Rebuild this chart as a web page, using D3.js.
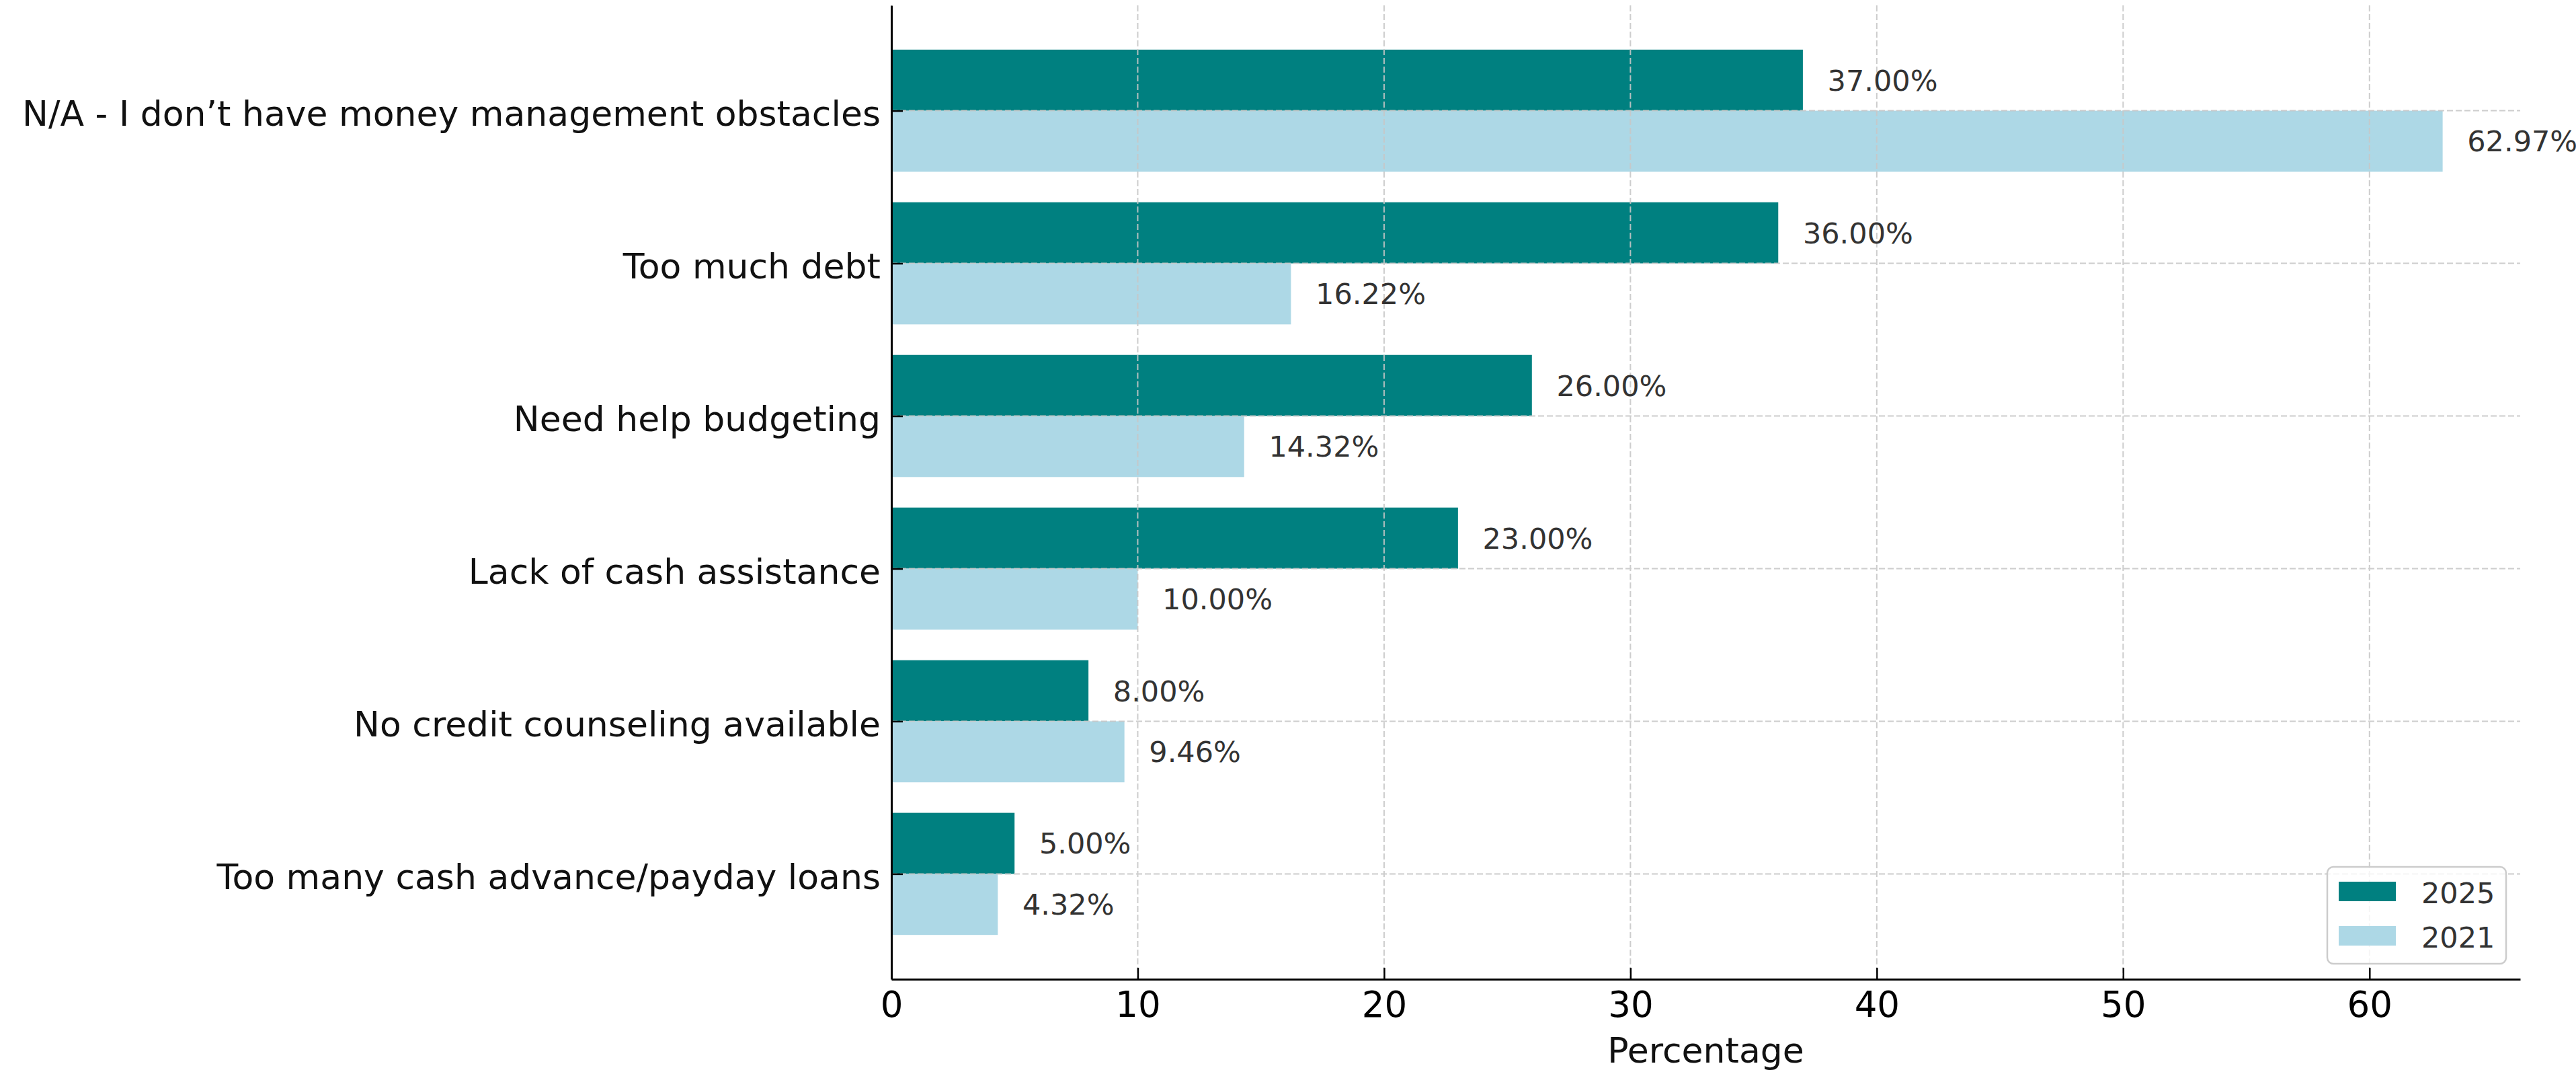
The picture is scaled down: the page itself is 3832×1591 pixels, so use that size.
<!DOCTYPE html>
<html>
<head>
<meta charset="utf-8">
<script src="https://cdn.jsdelivr.net/npm/d3@7"></script>
<style>
  html, body { margin: 0; padding: 0; background: #fff; }
  svg { display: block; font-family: "DejaVu Sans", sans-serif; }
</style>
</head>
<body>
<svg id="chart" width="3832" height="1591"></svg>
<script>
const categories = [
  "N/A - I don\u2019t have money management obstacles",
  "Too much debt",
  "Need help budgeting",
  "Lack of cash assistance",
  "No credit counseling available",
  "Too many cash advance/payday loans"
];
const values2025 = [37.00, 36.00, 26.00, 23.00, 8.00, 5.00];
const values2021 = [62.97, 16.22, 14.32, 10.00, 9.46, 4.32];
const seriesNames = ["2025", "2021"];
const xTicks = [0, 10, 20, 30, 40, 50, 60];
const xLabel = "Percentage";

const colors = { "2025": "#008080", "2021": "#ADD8E6" };
const plotL = 1326, plotR = 3749, plotT = 8, plotB = 1456;
const barH = 0.4;

const svg = d3.select("#chart");
const maxV = d3.max(values2021.concat(values2025));
const x = d3.scaleLinear().domain([0, maxV * 1.05]).range([plotL, plotR]);
const yIdx = d3.scaleLinear().domain([-0.69, categories.length - 1 + 0.69]).range([plotT, plotB]);

const series = [
  { name: "2025", values: values2025, offset: -barH },
  { name: "2021", values: values2021, offset: 0 }
];

// bars
series.forEach(s => {
  svg.append("g").selectAll("rect").data(s.values).join("rect")
    .attr("x", x(0))
    .attr("y", (d, i) => yIdx(i + s.offset))
    .attr("width", d => x(d) - x(0))
    .attr("height", yIdx(barH) - yIdx(0))
    .attr("fill", colors[s.name]);
});

// grid
const grid = svg.append("g").attr("stroke", "#c8c8c8").attr("stroke-width", 2)
  .attr("stroke-dasharray", "9,4").attr("opacity", 0.9);
grid.selectAll("line.v").data(xTicks).join("line").attr("class", "v")
  .attr("x1", d => x(d)).attr("x2", d => x(d))
  .attr("y1", plotT).attr("y2", plotB);
grid.selectAll("line.h").data(categories).join("line").attr("class", "h")
  .attr("x1", plotL).attr("x2", plotR)
  .attr("y1", (d, i) => yIdx(i)).attr("y2", (d, i) => yIdx(i));

// value labels
series.forEach(s => {
  svg.append("g").selectAll("text").data(s.values).join("text")
    .attr("x", d => x(d + 1))
    .attr("y", (d, i) => yIdx(i + s.offset + barH / 2))
    .attr("dy", "0.36em")
    .attr("font-size", 43)
    .attr("fill", "#333333")
    .text(d => d.toFixed(2) + "%");
});

// x axis
const xAxis = svg.append("g").attr("transform", `translate(0,${plotB})`)
  .call(d3.axisBottom(x).tickValues(xTicks).tickFormat(d3.format("d"))
    .tickSizeInner(-17).tickSizeOuter(0).tickPadding(18));
xAxis.select(".domain").attr("stroke", "#000").attr("stroke-width", 3);
xAxis.selectAll(".tick line").attr("stroke", "#000").attr("stroke-width", 2.5);
xAxis.selectAll(".tick text").attr("font-size", 53).attr("fill", "#000")
  .attr("font-family", "DejaVu Sans");

// y axis
const yAxis = svg.append("g").attr("transform", `translate(${plotL},0)`)
  .call(d3.axisLeft(yIdx).tickValues(d3.range(categories.length))
    .tickFormat(i => categories[i]).tickSizeInner(-17).tickSizeOuter(0).tickPadding(16));
yAxis.select(".domain").attr("stroke", "#000").attr("stroke-width", 3);
yAxis.selectAll(".tick line").attr("stroke", "#000").attr("stroke-width", 2.5);
yAxis.selectAll(".tick text").attr("font-size", 52).attr("fill", "#111")
  .attr("dy", "0.42em").attr("font-family", "DejaVu Sans");

// x label
svg.append("text").attr("x", (plotL + plotR) / 2).attr("y", 1580)
  .attr("text-anchor", "middle").attr("font-size", 52).attr("fill", "#111")
  .text(xLabel);

// legend
const lg = svg.append("g").attr("transform", "translate(3462,1289)");
lg.append("rect").attr("width", 266).attr("height", 144).attr("rx", 9)
  .attr("fill", "#fff").attr("fill-opacity", 0.8)
  .attr("stroke", "#cccccc").attr("stroke-width", 2.5);
seriesNames.forEach((n, i) => {
  lg.append("rect").attr("x", 17).attr("y", 22 + i * 66).attr("width", 85).attr("height", 29)
    .attr("fill", colors[n]);
  lg.append("text").attr("x", 140).attr("y", 54 + i * 66).attr("font-size", 43)
    .attr("fill", "#333333").text(n);
});
</script>
</body>
</html>
